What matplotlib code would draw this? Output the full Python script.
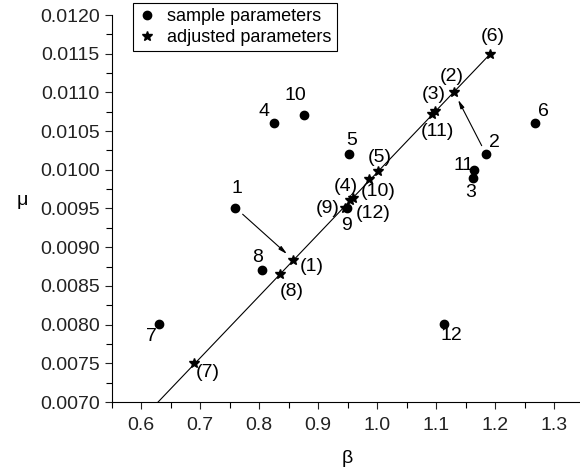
import numpy as np
import matplotlib.pyplot as plt
from matplotlib.ticker import MultipleLocator, FormatStrFormatter

plt.rcParams['font.family'] = ['Liberation Sans', 'DejaVu Sans']

# sample parameters (circles)
sample_id = ['1', '2', '3', '4', '5', '6', '7', '8', '9', '10', '11', '12']
sample_beta = [0.760, 1.185, 1.163, 0.825, 0.953, 1.268, 0.631, 0.805, 0.949, 0.876, 1.164, 1.114]
sample_mu = [0.00951, 0.01020, 0.00990, 0.01061, 0.01021, 0.01061, 0.00801, 0.00871, 0.00951, 0.01071, 0.01000, 0.00801]

# adjusted parameters (stars)
adj_id = ['(1)', '(2)', '(3)', '(4)', '(5)', '(6)', '(7)', '(8)', '(9)', '(10)', '(11)', '(12)']
adj_beta = [0.858, 1.131, 1.099, 0.959, 1.001, 1.191, 0.689, 0.835, 0.946, 0.987, 1.094, 0.954]
adj_mu = [0.00884, 0.01100, 0.01076, 0.00964, 0.00998, 0.01149, 0.00750, 0.00866, 0.00951, 0.00988, 0.01072, 0.00961]

# fitted line end points
line_beta = [0.629, 1.191]
line_mu = [0.00700, 0.01149]

# label offsets (pixels)
sample_off = [(2, 19), (8, 12), (-3, -15), (-10, 11), (2, 13), (8, 11),
              (-8, -13), (-4, 12), (0, -18), (-8, 19), (-10, 4), (7, -12)]
adj_off = [(19, -7), (-3, 16), (-2, 16), (-7, 11), (2, 14), (3, 18),
           (14, -9), (12, -18), (-17, -1), (9, -12), (5, -17), (23, -14)]

fig = plt.figure(figsize=(5.8, 4.69), dpi=100)
ax = fig.add_axes([111.5/580, 67/469, 472/580, 387/469])

ax.plot(line_beta, line_mu, color='black', lw=0.8, zorder=1)
ax.plot(sample_beta, sample_mu, 'o', color='black', ms=6, ls='none',
        label='sample parameters', zorder=3)
ax.plot(adj_beta, adj_mu, '*', color='black', ms=7, ls='none',
        label='adjusted parameters', zorder=3)

for i in [0, 1]:
    ax.annotate('', xy=(adj_beta[i], adj_mu[i]), xytext=(sample_beta[i], sample_mu[i]),
                arrowprops=dict(arrowstyle='-|>,head_length=0.5,head_width=0.12',
                                color='black', lw=0.8, shrinkA=7, shrinkB=6))

for t, x, y, o in zip(sample_id, sample_beta, sample_mu, sample_off):
    ax.annotate(t, (x, y), xytext=o, textcoords='offset pixels',
                ha='center', va='center', fontsize=14)
for t, x, y, o in zip(adj_id, adj_beta, adj_mu, adj_off):
    ax.annotate(t, (x, y), xytext=o, textcoords='offset pixels',
                ha='center', va='center', fontsize=14)

ax.set_xlim(0.55, 1.35)
ax.set_ylim(0.0070, 0.0120)
ax.xaxis.set_major_locator(MultipleLocator(0.1))
ax.xaxis.set_minor_locator(MultipleLocator(0.05))
ax.yaxis.set_major_locator(MultipleLocator(0.0005))
ax.yaxis.set_minor_locator(MultipleLocator(0.00025))
ax.xaxis.set_major_formatter(FormatStrFormatter('%.1f'))
ax.yaxis.set_major_formatter(FormatStrFormatter('%.4f'))
ax.tick_params(which='major', direction='out', length=5, width=0.8, labelsize=14, colors='#222222')
ax.tick_params(axis='x', which='major', pad=6)
ax.tick_params(which='minor', direction='out', length=4, width=0.8)
ax.spines['top'].set_visible(False)
ax.spines['right'].set_visible(False)
ax.spines['left'].set_linewidth(0.8)
ax.spines['bottom'].set_linewidth(0.8)

ax.set_xlabel('β', fontsize=14, labelpad=11)
ax.set_ylabel('μ', fontsize=14, rotation=0, labelpad=10)
ax.yaxis.set_label_coords(-0.19, 0.5)

fig.legend(loc='upper left', bbox_to_anchor=(133/580, 1 - 3/469), fontsize=13,
           frameon=True, fancybox=False, edgecolor='black', framealpha=1,
           borderaxespad=0, handlelength=1.0, handletextpad=0.6,
           borderpad=0.3, labelspacing=0.2)
ax.get_figure().legends[0].get_frame().set_linewidth(0.8)

fig.savefig('out.png', dpi=100)
